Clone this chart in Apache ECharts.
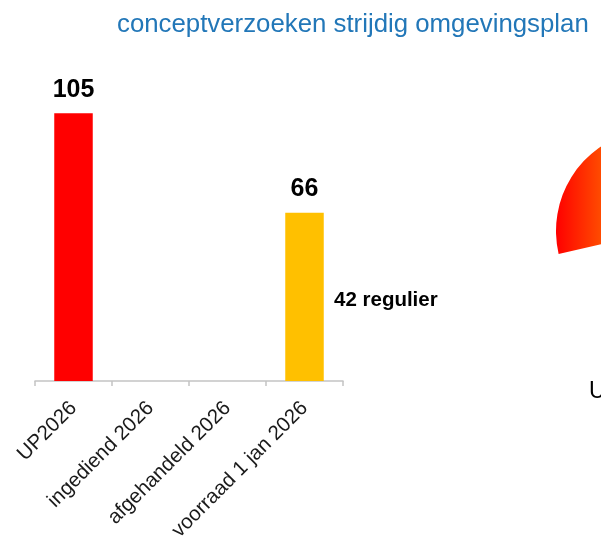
<!DOCTYPE html>
<html>
<head>
<meta charset="utf-8">
<script src="https://cdn.jsdelivr.net/npm/echarts@6/dist/echarts.min.js"></script>
<style>
  html, body { margin: 0; padding: 0; background: #fff; }
  #chart { width: 601px; height: 536px; }
</style>
</head>
<body>
<div id="chart"></div>
<script>
// data
const categories = ['UP2026', 'ingediend 2026', 'afgehandeld 2026', 'voorraad 1 jan 2026']
const values = [105, null, null, 66]
const barColors = ['#ff0000', '#ff0000', '#ff0000', '#ffc000']
const regulier = 42
const gaugeValue = 66
const gaugeMax = 105

const chart = echarts.init(document.getElementById('chart'))
const font = 'Liberation Sans, Arial, Helvetica, sans-serif'

const option = {
  backgroundColor: '#fff',
  textStyle: { fontFamily: font },
  title: [{
    text: 'conceptverzoeken strijdig omgevingsplan',
    left: 112,
    top: 7,
    textStyle: { color: '#2277b8', fontSize: 25.8, fontWeight: 'normal', fontFamily: font }
  }, {
    text: regulier + ' regulier',
    left: 329,
    top: 285,
    textStyle: { color: '#000', fontSize: 20.5, fontWeight: 'bold', fontFamily: font }
  }, {
    text: 'UP2026',
    left: 584,
    top: 375,
    textStyle: { color: '#000', fontSize: 23, fontWeight: 'normal', fontFamily: font }
  }],
  grid: {
    left: 35,
    right: 258,
    top: 75,
    bottom: 155,
    containLabel: false,
    outerBoundsMode: 'none'
  },
  xAxis: {
    type: 'category',
    data: categories,
    axisLine: { lineStyle: { color: '#c4c4c4', width: 1.5 } },
    axisTick: { show: true, length: 5, lineStyle: { color: '#c4c4c4', width: 1.5 } },
    axisLabel: {
      interval: 0,
      rotate: 45,
      margin: 24,
      color: '#1a1a1a',
      fontSize: 20.5,
      fontFamily: font
    }
  },
  yAxis: {
    type: 'value',
    min: 0,
    max: 120,
    show: false,
    splitLine: { show: false }
  },
  series: [{
    type: 'bar',
    data: values,
    barWidth: '50%',
    itemStyle: {
      color: p => barColors[p.dataIndex]
    },
    label: {
      show: true,
      position: 'top',
      distance: 11,
      color: '#000',
      fontSize: 25,
      fontWeight: 'bold',
      fontFamily: font
    }
  }, {
    type: 'gauge',
    center: [658, 231],
    radius: 102,
    startAngle: 193,
    endAngle: -13,
    min: 0,
    max: gaugeMax,
    progress: {
      show: true,
      width: 80,
      itemStyle: {
        color: new echarts.graphic.LinearGradient(0, 0, 1, 0, [
          { offset: 0, color: '#ff0000' },
          { offset: 0.3, color: '#ff4a00' },
          { offset: 1, color: '#ffb000' }
        ])
      }
    },
    axisLine: { lineStyle: { width: 80, color: [[1, 'rgba(0,0,0,0)']] } },
    axisTick: { show: false },
    splitLine: { show: false },
    axisLabel: { show: false },
    pointer: { show: false },
    anchor: { show: false },
    title: { show: false },
    detail: { show: false },
    data: [{ value: gaugeValue }]
  }]
}

chart.setOption(option)
</script>
</body>
</html>
